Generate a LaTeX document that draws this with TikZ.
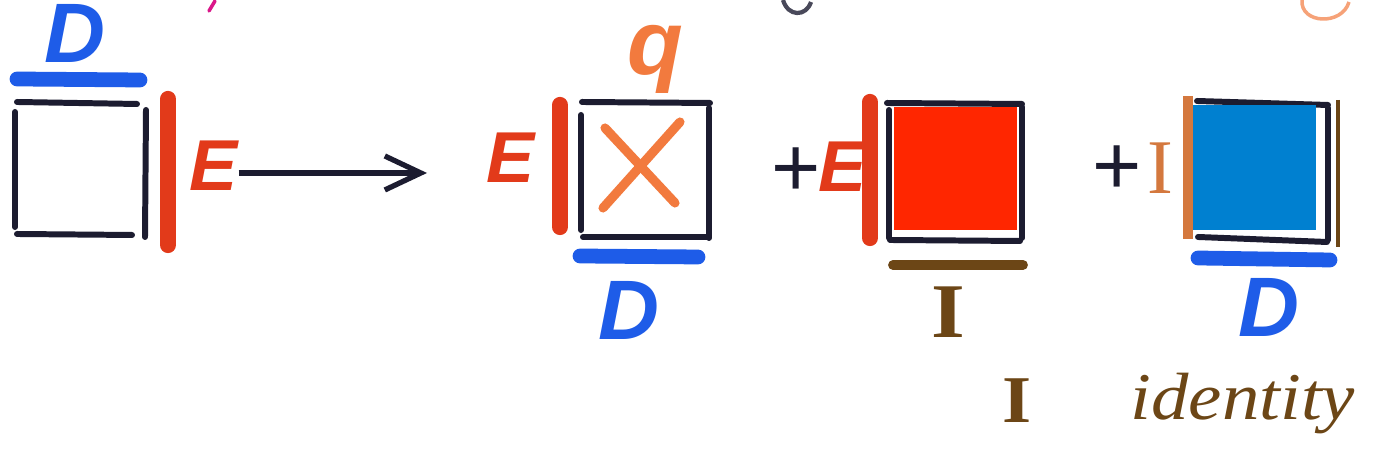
\documentclass[tikz,border=0pt]{standalone}
\usepackage{fontspec}
\setmainfont{Liberation Serif}
\newfontfamily\handfont{Liberation Sans}
\newfontfamily\notefont[FakeStretch=1.12]{Liberation Serif}
\usepackage{xcolor}
\usetikzlibrary{arrows.meta,positioning}
\definecolor{markblue}{RGB}{30,92,232}
\definecolor{markred}{RGB}{226,58,26}
\definecolor{markorange}{RGB}{242,122,62}
\definecolor{markink}{RGB}{28,28,48}
\definecolor{markbrown}{RGB}{108,70,22}
\definecolor{fillred}{RGB}{255,38,0}
\definecolor{fillblue}{RGB}{0,128,208}
\definecolor{typeorange}{RGB}{212,120,62}
\tikzset{
    side/.style={draw=markink,line width=1.7pt,line cap=round},
    dbar/.style={draw=markblue,line width=4.2pt,line cap=round},
    ebar/.style={draw=markred,line width=4.6pt,line cap=round},
    ibar/.style={draw=markbrown,line width=2.8pt,line cap=round},
    cross/.style={draw=markorange,line width=2.6pt,line cap=round},
    hand/.style={inner sep=0pt,font=\handfont\bfseries\itshape\fontsize{#1}{#1}\selectfont},
    dlab/.style={hand=24,text=markblue},
    elab/.style={hand=20.5,text=markred},
    plus/.style={inner sep=0pt,text=markink,font=\handfont\fontsize{24}{24}\selectfont},
    ilab/.style={inner sep=0pt,text=markbrown,font=\notefont\bfseries\fontsize{#1}{#1}\selectfont},
    arr/.style={draw=markink,line width=1.5pt,-{Straight Barb[length=3.6mm,width=3.4mm]}}
}
\begin{document}
\begin{tikzpicture}[x=0.01cm,y=-0.01cm]
  \useasboundingbox[fill=white] (0,0) rectangle (1375,462);
  % strokes cut off at the top edge
  \draw[magenta!80!violet,line width=1pt,line cap=round] (209,11) -- (215,1);
  \draw[markink!80,line width=1.2pt] (783,0) .. controls (788,17) and (806,17) .. (811,2);
  \draw[markorange!70,line width=1pt] (1302,0) .. controls (1300,24) and (1342,26) .. (1349,2);
  % first square: D on top, E on the right
  \draw[side] (17,102) -- (137,104);
  \draw[side] (15,112) -- (15,227);
  \draw[side] (17,234) -- (132,235);
  \draw[side] (146,110) -- (145,237);
  \draw[dbar] (17,79) -- (140,80);
  \draw[ebar] (168,99) -- (168,245);
  \node[dlab] (d1) at (75,33) {D};
  \node[elab] (e1) at (214,166) {E};
  % arrow to the expansion
  \coordinate (tip) at (427,173);
  \draw[arr] (e1.east |- tip) -- (tip);
  % second square: q on top, E on the left, D below
  \draw[side] (582,102) -- (710,103);
  \draw[side] (581,115) -- (581,230);
  \draw[side] (583,237) -- (708,237);
  \draw[side] (709,108) -- (709,238);
  \draw[cross] (605,128) -- (675,203);
  \draw[cross] (680,122) -- (603,208);
  \draw[ebar] (560,105) -- (560,227);
  \draw[dbar] (580,256) -- (698,257);
  \node[hand=26,text=markorange] (q) at (655,59) {q};
  \node[elab] (e2) at (511,158) {E};
  \node[dlab] (d2) at (629,310) {D};
  % third square: E on the left, I below
  \node[plus] (p1) at (796,172) {+};
  \node[elab] (e3) at (843,167) {E};
  \draw[side] (887,103) -- (1022,104);
  \draw[side] (889,110) -- (889,238);
  \draw[side] (890,240) -- (1020,241);
  \draw[side] (1022,107) -- (1022,238);
  \fill[fillred] (894,107) rectangle (1017,230);
  \draw[ebar] (870,102) -- (870,238);
  \draw[ibar] (893,265) -- (1023,265);
  \node[ilab=22] (i1) at (948,312) {I};
  % fourth square: I on the left, D below
  \node[plus] (p2) at (1117,170) {+};
  \node[inner sep=0pt,text=typeorange,font=\fontsize{22}{22}\selectfont] (i2) at (1160,168) {I};
  \draw[side] (1197,101) -- (1328,105);
  \draw[side] (1328,108) -- (1328,240);
  \draw[side] (1198,237) -- (1327,242);
  \fill[fillblue] (1193,105) rectangle (1316,230);
  \fill[typeorange] (1183,96) rectangle (1193,239);
  \draw[dbar] (1198,258) -- (1330,260);
  \draw[draw=markbrown,line width=0.9pt] (1338,100) -- (1338,247);
  \node[dlab] (d3) at (1269,307) {D};
  % note at the bottom
  \node[ilab=19] (i3) at (1017,401) {I};
  \node[inner sep=0pt,anchor=base west,text=markbrown,font=\notefont\itshape\fontsize{19}{19}\selectfont] (id) at (1130,420) {identity};
\end{tikzpicture}
\end{document}
